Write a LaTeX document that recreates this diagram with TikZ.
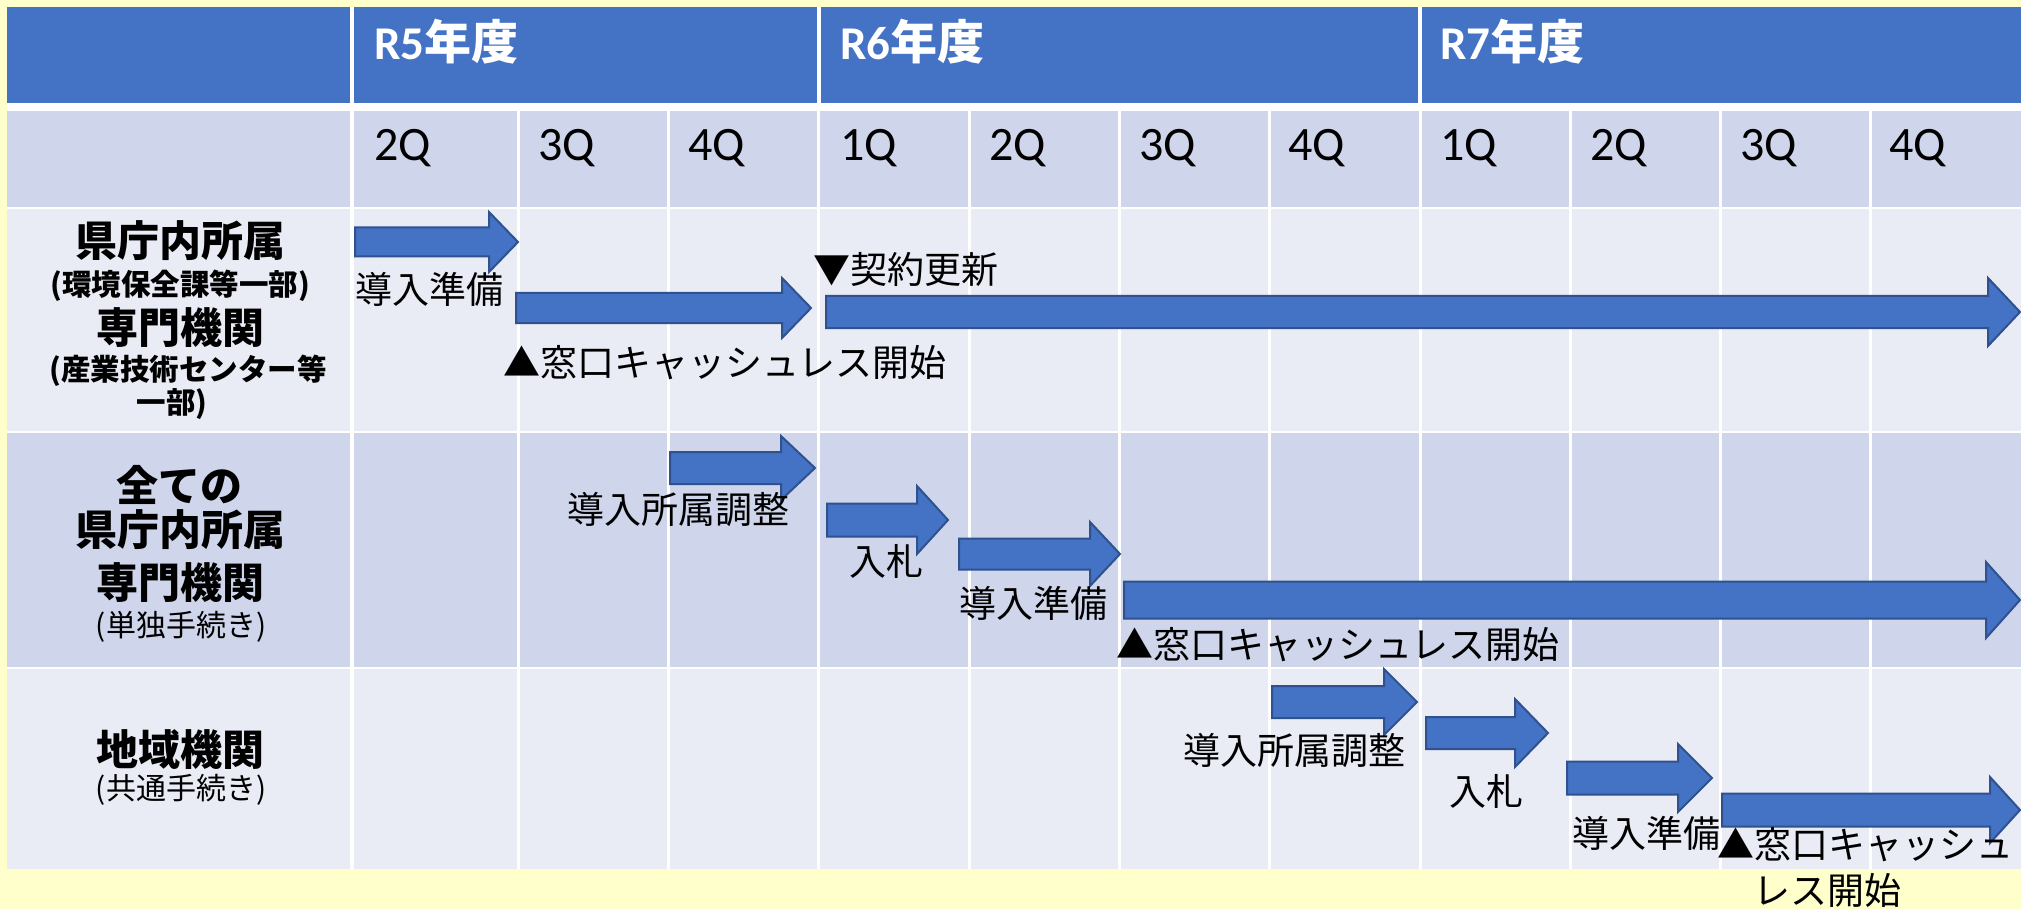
\documentclass[tikz,border=0pt]{standalone}
\usepackage{fontspec}
\setmainfont{Carlito}
\newfontfamily\jp{Noto Sans CJK JP}
\definecolor{hdr}{HTML}{4472C4}
\definecolor{rowA}{HTML}{CFD5EA}
\definecolor{rowB}{HTML}{E9EBF5}
\definecolor{arrowedge}{HTML}{2F528F}
\definecolor{bgyellow}{HTML}{FFFFCC}
\newcommand\qarrow[6]{%
  \draw[barrow] (#1,{#3-#4}) -- ({#2-#6},{#3-#4}) -- ({#2-#6},{#3-#5}) -- (#2,#3)
    -- ({#2-#6},{#3+#5}) -- ({#2-#6},{#3+#4}) -- (#1,{#3+#4}) -- cycle;}
\begin{document}
\begin{tikzpicture}[x=1pt,y=-1pt,
  jtext/.style={font=\jp\fontsize{37}{40}\selectfont, inner sep=0pt, anchor=west, text=black},
  lbl/.style={font=\jp\bfseries\fontsize{42}{46}\selectfont, inner sep=0pt, text=black},
  sublbl/.style={font=\jp\bfseries\fontsize{29.5}{32}\selectfont, inner sep=0pt, text=black},
  subreg/.style={font=\jp\fontsize{30}{32}\selectfont, inner sep=0pt, text=black},
  qlabel/.style={font=\fontsize{48}{52}\selectfont, inner sep=0pt, anchor=west, text=black},
  yr/.style={font=\bfseries\fontsize{47}{52}\selectfont, text=white, inner sep=0pt, anchor=west},
  barrow/.style={fill=hdr, draw=arrowedge, line width=2pt, line join=miter},
  sep/.style={draw=white, line width=3pt}
]
\useasboundingbox (0,0) rectangle (2021,909);
\fill[bgyellow] (0,0) rectangle (2021,909);
% table
\fill[white] (7,7) rectangle (2021,869);
\fill[hdr] (7,7) rectangle (2021,103);
\fill[rowA] (7,111) rectangle (2021,207);
\fill[rowB] (7,209) rectangle (2021,431);
\fill[rowA] (7,433) rectangle (2021,667);
\fill[rowB] (7,669) rectangle (2021,869);
\foreach \x in {518,668.5,818.5,969,1119,1269.5,1420,1570,1720.5,1870.5}
  \draw[sep] (\x,111) -- (\x,869);
\draw[sep, line width=4pt] (352,7) -- (352,869);
\draw[sep, line width=4pt] (818.5,7) -- (818.5,103);
\draw[sep, line width=4pt] (1420,7) -- (1420,103);
% header
\node[yr] (r5) at (374,42) {R5{\jp 年度}};
\node[yr] (r6) at (840,42) {R6{\jp 年度}};
\node[yr] (r7) at (1440,42) {R7{\jp 年度}};
\foreach \x/\t [count=\i] in {374/2Q,538/3Q,688/4Q,840/1Q,989/2Q,1139/3Q,1288/4Q,1440/1Q,1590/2Q,1740/3Q,1889/4Q}
  \node[qlabel] (q\i) at (\x,148) {\t};
% left labels
\node[lbl] (a1) at (180,241) {県庁内所属};
\node[sublbl] (a2) at (180,286) {(環境保全課等一部)};
\node[lbl] (a3) at (180,328) {専門機関};
\node[sublbl] (a4) at (188,371) {(産業技術センター等};
\node[sublbl] (a5) at (172,404) {一部)};
\node[lbl] (b1) at (179,485) {全ての};
\node[lbl] (b2) at (180,530) {県庁内所属};
\node[lbl] (b3) at (180,583) {専門機関};
\node[subreg] (b4) at (181,627) {(単独手続き)};
\node[lbl] (c1) at (180,750) {地域機関};
\node[subreg] (c2) at (181,790) {(共通手続き)};
% arrows
\qarrow{355}{518}{242}{14.5}{30}{29}
\qarrow{516}{811}{308}{15}{30}{29}
\qarrow{826}{2020}{312}{16}{34}{32}
\qarrow{670}{815}{468}{16}{32}{34}
\qarrow{827}{948}{520}{16.5}{34}{31}
\qarrow{959}{1120}{554}{15.5}{32}{30}
\qarrow{1124}{2020}{600}{18.5}{38}{34}
\qarrow{1272}{1417}{702}{16}{33}{33}
\qarrow{1426}{1548}{733}{16}{34}{33}
\qarrow{1567}{1712}{778}{16.5}{34}{34}
\qarrow{1722}{2020}{810}{16.5}{33}{30}
% row labels
\node[jtext] (t1) at (355,289) {導入準備};
\node[jtext] (t2) at (813,269) {▼契約更新};
\node[jtext] (t3) at (503,363) {▲窓口キャッシュレス開始};
\node[jtext] (u1) at (567,510) {導入所属調整};
\node[jtext] (u2) at (849,561) {入札};
\node[jtext] (u3) at (959,603) {導入準備};
\node[jtext] (u4) at (1116,645) {▲窓口キャッシュレス開始};
\node[jtext] (v1) at (1183,751) {導入所属調整};
\node[jtext] (v2) at (1449,791) {入札};
\node[jtext] (v3) at (1572,833) {導入準備};
\node[jtext] (v4) at (1717,845) {▲窓口キャッシュ};
\node[jtext] (v5) at (1753,890) {レス開始};
\end{tikzpicture}
\end{document}
